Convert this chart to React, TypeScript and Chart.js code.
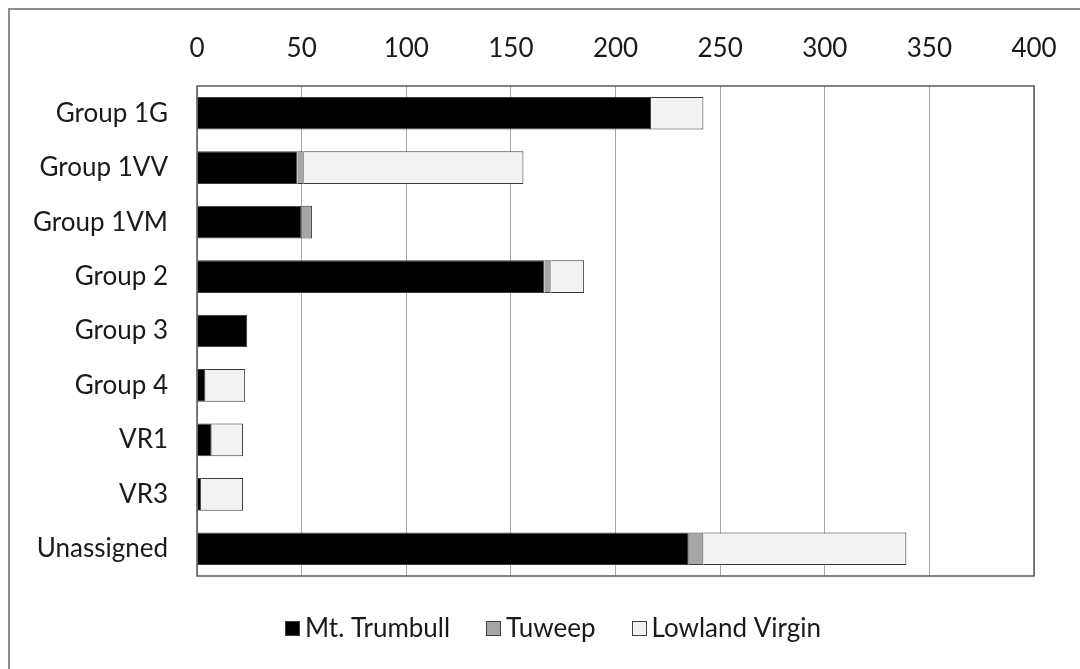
import React, { useEffect, useRef } from 'react';
import { Chart, registerables } from 'chart.js';

Chart.register(...registerables);

const categories = ['Group 1G', 'Group 1VV', 'Group 1VM', 'Group 2', 'Group 3', 'Group 4', 'VR1', 'VR3', 'Unassigned'];
const mtTrumbull = [217, 48, 50, 166, 24, 4, 7, 2, 235];
const tuweep = [0, 3, 5, 3, 0, 0, 0, 0, 7];
const lowlandVirgin = [25, 105, 0, 16, 0, 19, 15, 20, 97];
const seriesNames = ['Mt. Trumbull', 'Tuweep', 'Lowland Virgin'];
const xTickValues = [0, 50, 100, 150, 200, 250, 300, 350, 400];

const FONT_FAMILY = 'Lato, "Open Sans", sans-serif';
const FONT_SIZE = 26;
const TEXT_COLOR = '#1a1a1a';

const frameBorder = {
  id: 'frameBorder',
  afterDraw(chart: any) {
    const { ctx, chartArea } = chart;
    ctx.save();
    ctx.strokeStyle = '#595959';
    ctx.lineWidth = 1.5;
    ctx.strokeRect(chartArea.left, chartArea.top, chartArea.right - chartArea.left, chartArea.bottom - chartArea.top);
    ctx.restore();
  },
};

const customLegend = {
  id: 'customLegend',
  afterDraw(chart: any) {
    const { ctx, chartArea } = chart;
    ctx.save();
    ctx.font = `${FONT_SIZE}px ${FONT_FAMILY}`;
    const box = 14;
    const gapText = 6;
    const gapItem = 36;
    const items = chart.data.datasets.map((ds: any) => ({
      label: ds.label,
      fill: ds.backgroundColor,
      w: ctx.measureText(ds.label).width,
    }));
    const total = items.reduce((s: number, it: any) => s + box + gapText + it.w, 0) + gapItem * (items.length - 1);
    let x = chart.width / 2 + 8 - total / 2;
    const y = chartArea.bottom + 52;
    ctx.textBaseline = 'middle';
    ctx.textAlign = 'left';
    for (const it of items) {
      ctx.fillStyle = it.fill;
      ctx.fillRect(Math.round(x) + 0.5, Math.round(y - box / 2) + 0.5, box, box);
      ctx.strokeStyle = '#404040';
      ctx.lineWidth = 1;
      ctx.strokeRect(Math.round(x) + 0.5, Math.round(y - box / 2) + 0.5, box, box);
      ctx.fillStyle = TEXT_COLOR;
      ctx.fillText(it.label, x + box + gapText, y + 1);
      x += box + gapText + it.w + gapItem;
    }
    ctx.restore();
  },
};

export default function App() {
  const canvasRef = useRef<HTMLCanvasElement | null>(null);

  useEffect(() => {
    if (!canvasRef.current) return;
    const chart = new Chart(canvasRef.current, {
      type: 'bar',
      data: {
        labels: categories,
        datasets: [
          { label: seriesNames[0], data: mtTrumbull, backgroundColor: '#000000', borderColor: '#3a3a3a', borderWidth: 1 },
          { label: seriesNames[1], data: tuweep, backgroundColor: '#a6a6a6', borderColor: '#3a3a3a', borderWidth: 1 },
          { label: seriesNames[2], data: lowlandVirgin, backgroundColor: '#f2f2f2', borderColor: '#3a3a3a', borderWidth: 1 },
        ],
      },
      options: {
        indexAxis: 'y',
        responsive: false,
        animation: false,
        devicePixelRatio: 1,
        layout: { padding: { left: 0, top: 0, right: 46, bottom: 93 } },
        datasets: { bar: { categoryPercentage: 1, barPercentage: 0.6 } },
        plugins: {
          legend: { display: false },
          tooltip: { enabled: false },
          title: { display: false },
        },
        scales: {
          x: {
            type: 'linear',
            position: 'top',
            stacked: true,
            min: 0,
            max: 400,
            afterBuildTicks: (s: any) => {
              s.ticks = xTickValues.map((v) => ({ value: v }));
            },
            afterFit: (s: any) => {
              s.height = 76;
            },
            grid: { display: true, color: '#a6a6a6', lineWidth: 1, drawTicks: false },
            border: { display: false },
            ticks: {
              padding: 22,
              color: TEXT_COLOR,
              font: { family: FONT_FAMILY, size: FONT_SIZE },
              maxRotation: 0,
            },
          },
          y: {
            stacked: true,
            afterFit: (s: any) => {
              s.width = 187;
            },
            grid: { display: false, drawTicks: false },
            border: { display: false },
            ticks: {
              padding: 29,
              color: TEXT_COLOR,
              font: { family: FONT_FAMILY, size: FONT_SIZE },
            },
          },
        },
      },
      plugins: [frameBorder, customLegend],
    });
    return () => chart.destroy();
  }, []);

  return (
    <div
      style={{
        position: 'fixed',
        left: 8,
        top: 8,
        width: 1072,
        height: 661,
        borderLeft: '2px solid #8c8c8c',
        borderTop: '2px solid #8c8c8c',
        background: '#ffffff',
      }}
    >
      <canvas ref={canvasRef} width={1070} height={659} style={{ display: 'block', width: 1070, height: 659 }} />
    </div>
  );
}
